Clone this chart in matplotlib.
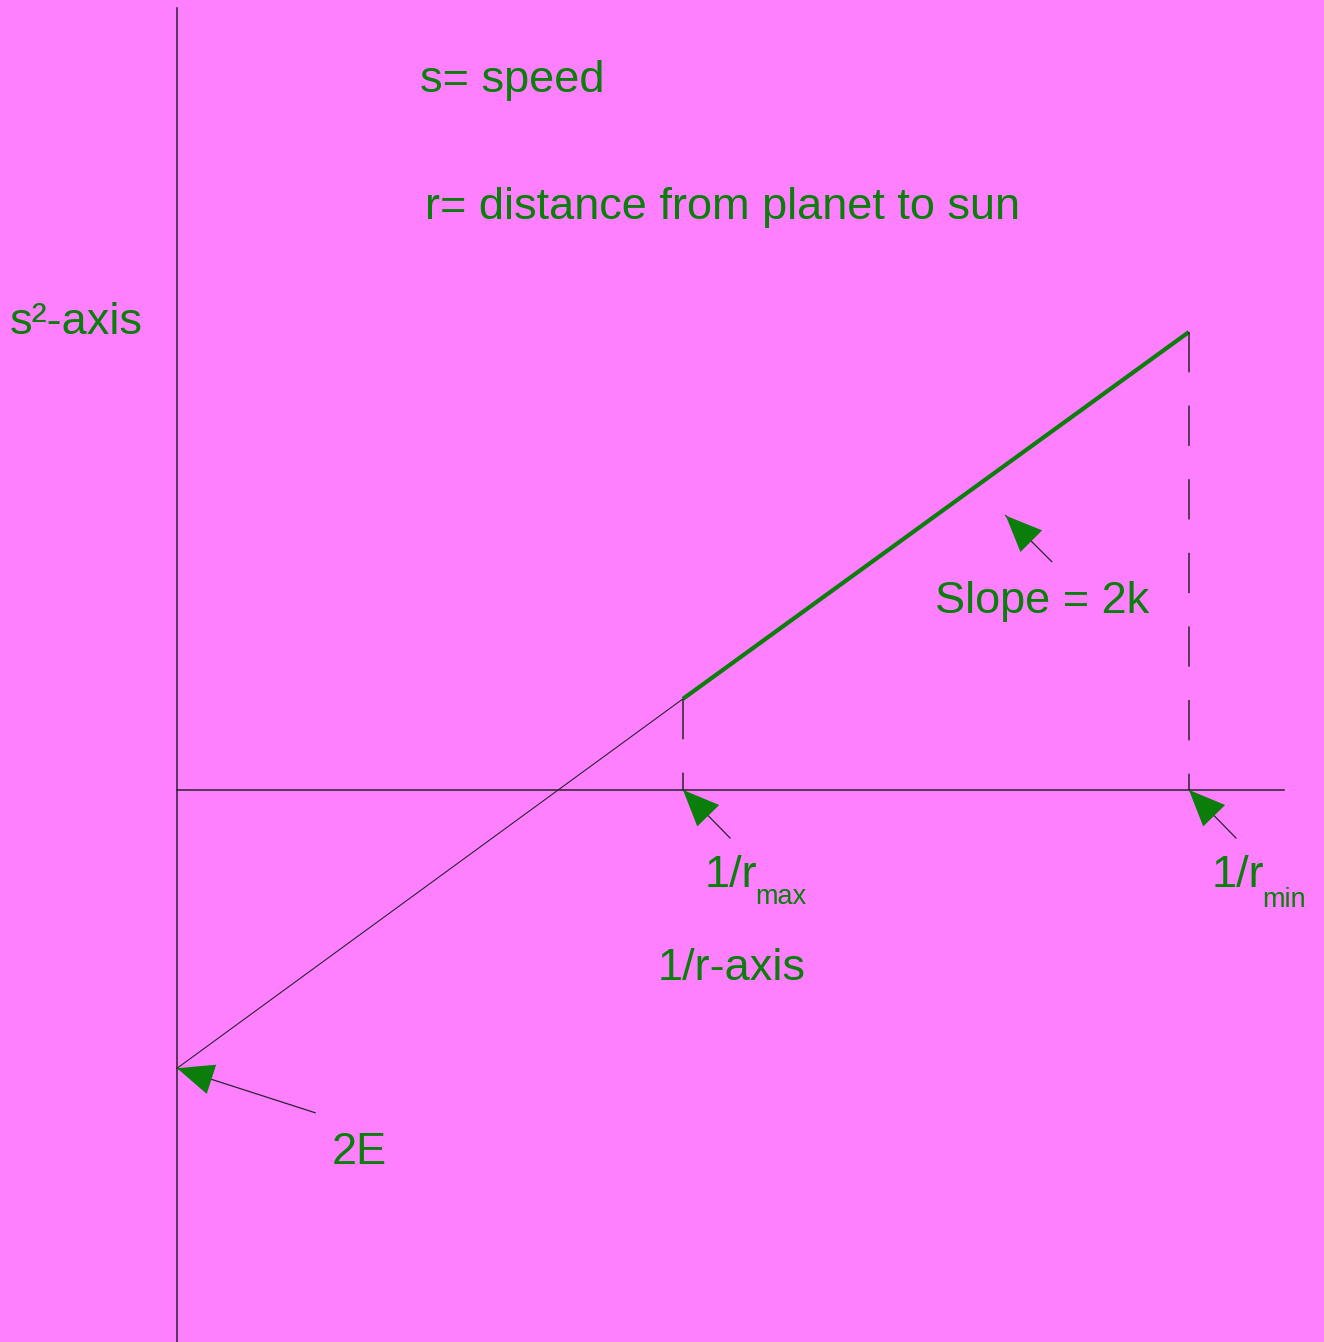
import numpy as np
import matplotlib.pyplot as plt

plt.rcParams['font.family'] = ['Liberation Sans', 'DejaVu Sans']
plt.rcParams['lines.scale_dashes'] = False

# data: x = 1/r, y = s^2 (arbitrary units)
inv_r = [0.0, 1.0, 2.0]          # 0, 1/r_max, 1/r_min
s2 = [-0.55, 0.18, 0.905]         # 2E, s^2 at 1/r_max, s^2 at 1/r_min
x_axis_end = 2.188
y_axis_top = 1.545
y_axis_bottom = -1.091

bg = '#ff80ff'
green = '#0a7d0a'
dark = '#2a2230'

fig = plt.figure(figsize=(13.24, 13.42), dpi=100)
fig.patch.set_facecolor(bg)
ax = fig.add_axes([0, 0, 1, 1])
ax.set_facecolor(bg)
ax.set_xlim(-0.35, 2.267)
ax.set_ylim(-1.091, 1.561)
ax.axis('off')

# axes
ax.plot([inv_r[0], inv_r[0]], [y_axis_bottom, y_axis_top], color=dark, lw=1.1)
ax.plot([inv_r[0], x_axis_end], [0, 0], color=dark, lw=1.1)

# thin extrapolated part and thick orbit part
ax.plot(inv_r[:2], s2[:2], color=dark, lw=0.8)
ax.plot(inv_r[1:], s2[1:], color=green, lw=3, solid_capstyle='butt')

# dashed drop lines
for xv, yv in zip(inv_r[1:], s2[1:]):
    ax.plot([xv, xv], [yv, 0], color=dark, lw=1.1, dashes=(29, 24))

# arrows: (tip, tail)
arrows = [((inv_r[1], 0.0), (1.093, -0.095)),
          ((inv_r[2], 0.0), (2.093, -0.095)),
          ((1.638, 0.542), (1.729, 0.451)),
          ((inv_r[0], s2[0]), (0.273, -0.638))]
for tip, tail in arrows:
    ax.plot([tip[0], tail[0]], [tip[1], tail[1]], color=dark, lw=0.9)
    ax.annotate('', xy=tip, xytext=tail,
                arrowprops=dict(arrowstyle='-|>,head_length=0.4,head_width=0.17',
                                mutation_scale=65, color=green, lw=0,
                                shrinkA=0, shrinkB=0))

fs = 32.5
sub = 19.5
ax.text(0.480, 1.401, 's= speed', color=green, fontsize=fs, va='center')
ax.text(0.490, 1.150, 'r= distance from planet to sun', color=green, fontsize=fs, va='center')
ax.text(-0.330, 0.923, 's²-axis', color=green, fontsize=fs, va='center')
ax.text(1.498, 0.373, 'Slope = 2k', color=green, fontsize=fs, va='center')
ax.text(1.043, -0.170, '1/r', color=green, fontsize=fs, va='center')
ax.text(1.142, -0.211, 'max', color=green, fontsize=sub, va='center')
ax.text(2.045, -0.170, '1/r', color=green, fontsize=fs, va='center')
ax.text(2.144, -0.217, 'min', color=green, fontsize=sub, va='center')
ax.text(0.949, -0.352, '1/r-axis', color=green, fontsize=fs, va='center')
ax.text(0.306, -0.717, '2E', color=green, fontsize=fs, va='center')

fig.savefig('out.png', dpi=100, facecolor=bg)
